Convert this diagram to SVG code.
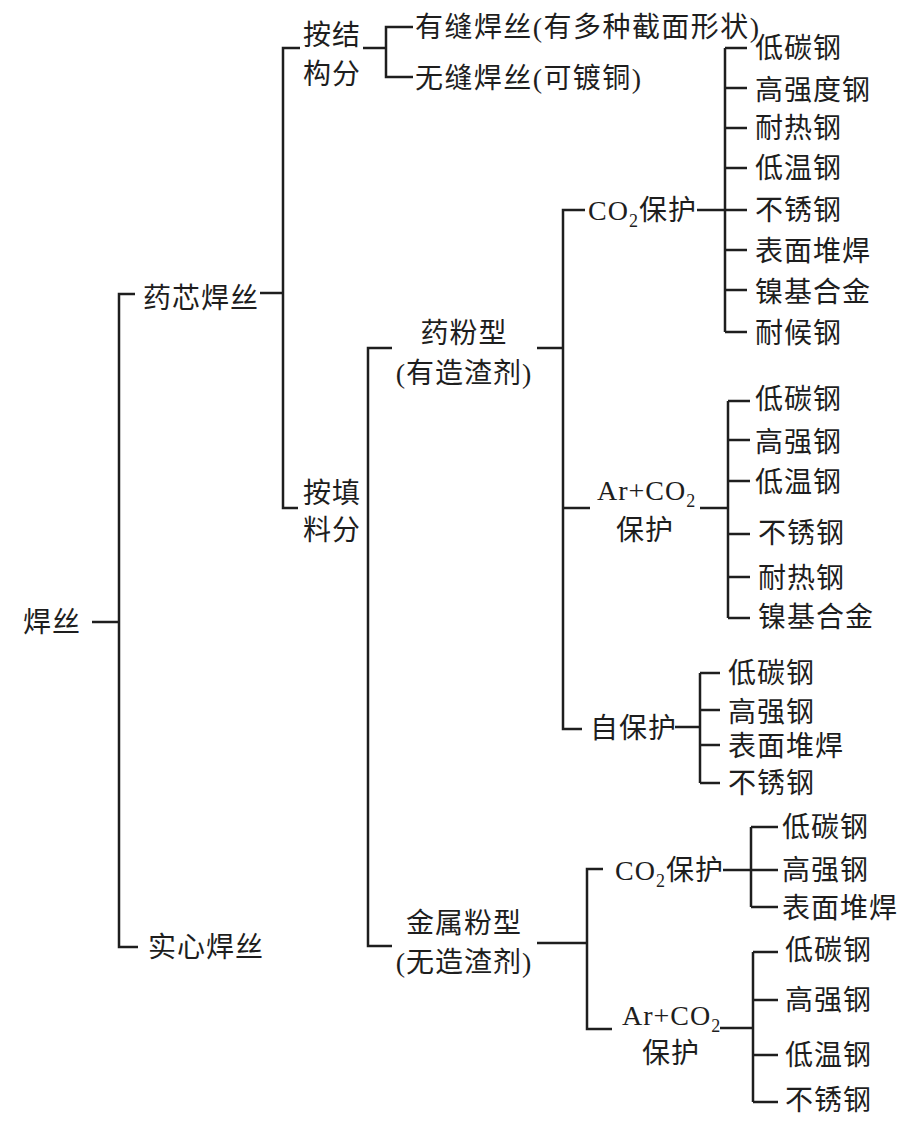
<svg xmlns="http://www.w3.org/2000/svg" width="917" height="1126" viewBox="0 0 917 1126">
<style>
text{font-family:"Liberation Serif","Noto Sans CJK SC",serif;font-size:28px;fill:#1e1e1e;letter-spacing:1px}
.m{text-anchor:middle}
.sub{font-size:18px}
#connectors path{fill:none;stroke:#1e1e1e;stroke-width:2.5}
</style>
<rect width="917" height="1126" fill="#fff"/>
<g id="connectors">
<path d="M92,622H119"/>
<path d="M135,294H119V947H138"/>
<path d="M260,293H283"/>
<path d="M300,48H283V508H298"/>
<path d="M363,48H386"/>
<path d="M413,27H386V77H413"/>
<path d="M392,348H368V946H392"/>
<path d="M537,348H563"/>
<path d="M585,210H563V729H582"/>
<path d="M563,508H590"/>
<path d="M697,210H747"/>
<path d="M725,48V332M725,48H747M725,88H747M725,128H747M725,168H747M725,250H747M725,290H747M725,332H747"/>
<path d="M700,508H728"/>
<path d="M728,401V618M728,401H750M728,440H750M728,481H750M728,534H750M728,577H750M728,618H750"/>
<path d="M675,727H700"/>
<path d="M700,673V783M700,673H720M700,710H720M700,745H720M700,783H720"/>
<path d="M537,943H587"/>
<path d="M603,869H587V1029H612"/>
<path d="M723,870H778"/>
<path d="M751,827V907M751,827H778M751,907H778"/>
<path d="M720,1028H753"/>
<path d="M753,952V1102M753,952H778M753,1000H778M753,1055H778M753,1102H778"/>
</g>
<g id="n-hansi"><text x="23" y="632">焊丝</text></g>
<g id="n-yaoxin"><text x="143" y="308">药芯焊丝</text></g>
<g id="n-shixin"><text x="148" y="957">实心焊丝</text></g>
<g id="n-jiegou"><text x="303" y="45">按结</text><text x="303" y="84">构分</text></g>
<g id="n-tianliao"><text x="303" y="503">按填</text><text x="303" y="540">料分</text></g>
<g id="n-youfeng"><text x="415" y="37" textLength="345">有缝焊丝(有多种截面形状)</text></g>
<g id="n-wufeng"><text x="415" y="88" textLength="227">无缝焊丝(可镀铜)</text></g>
<g id="n-yaofen"><text class="m" x="464" y="343">药粉型</text><text class="m" x="464" y="383">(有造渣剂)</text></g>
<g id="n-jinshu"><text class="m" x="464" y="933">金属粉型</text><text class="m" x="464" y="972">(无造渣剂)</text></g>
<g id="n-co2-a"><text x="588" y="220">CO<tspan class="sub" dy="7">2</tspan><tspan dy="-7">保护</tspan></text></g>
<g id="n-arco2-a"><text x="597" y="500">Ar+CO<tspan class="sub" dy="7">2</tspan></text><text class="m" x="645" y="540">保护</text></g>
<g id="n-zibaohu"><text x="590" y="738">自保护</text></g>
<g id="n-co2-b"><text x="615" y="880">CO<tspan class="sub" dy="7">2</tspan><tspan dy="-7">保护</tspan></text></g>
<g id="n-arco2-b"><text x="622" y="1025">Ar+CO<tspan class="sub" dy="7">2</tspan></text><text class="m" x="671" y="1063">保护</text></g>
<g id="leaves-co2-a">
<text x="755" y="58">低碳钢</text><text x="755" y="100">高强度钢</text><text x="755" y="138">耐热钢</text><text x="755" y="178">低温钢</text>
<text x="755" y="220">不锈钢</text><text x="755" y="261">表面堆焊</text><text x="755" y="302">镍基合金</text><text x="755" y="343">耐候钢</text>
</g>
<g id="leaves-arco2-a">
<text x="755" y="409">低碳钢</text><text x="755" y="452">高强钢</text><text x="755" y="492">低温钢</text>
<text x="758" y="543">不锈钢</text><text x="758" y="588">耐热钢</text><text x="758" y="627">镍基合金</text>
</g>
<g id="leaves-zibaohu">
<text x="728" y="683">低碳钢</text><text x="728" y="722">高强钢</text><text x="728" y="756">表面堆焊</text><text x="728" y="793">不锈钢</text>
</g>
<g id="leaves-co2-b">
<text x="782" y="837">低碳钢</text><text x="782" y="880">高强钢</text><text x="782" y="918">表面堆焊</text>
</g>
<g id="leaves-arco2-b">
<text x="785" y="960">低碳钢</text><text x="785" y="1010">高强钢</text><text x="785" y="1065">低温钢</text><text x="785" y="1110">不锈钢</text>
</g>
</svg>
